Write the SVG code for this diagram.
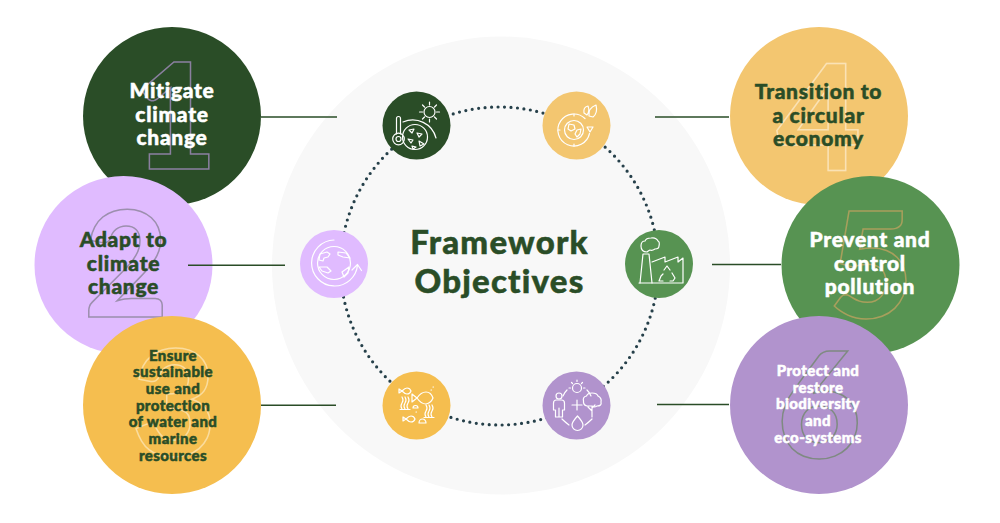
<svg xmlns="http://www.w3.org/2000/svg" width="1000" height="523" viewBox="0 0 1000 523">
<style>
.lb{font-family:"Lato","Noto Sans",sans-serif;font-weight:900;text-anchor:middle;stroke-width:.5;paint-order:stroke}
.dg{font-family:"Lato","DejaVu Sans",sans-serif;font-weight:900;font-size:146px;text-anchor:middle;fill:none;stroke-width:1.5}
.w{fill:#fff;stroke:#fff}.g{fill:#2a4d27;stroke:#2a4d27}
.ic{fill:none;stroke:#fff;stroke-width:1.2;stroke-linecap:round;stroke-linejoin:round}
.l18{font-size:21px;letter-spacing:.7px}.l14{font-size:15px;letter-spacing:.4px}
.tt{font-size:33px;letter-spacing:1.2px}
.cn{stroke:#2a4d27;stroke-width:1.6;fill:none}
</style>
<rect width="1000" height="523" fill="#fff"/>
<circle cx="501" cy="265.500" r="229" fill="#f8f8f8"/>
<g id="ring"><circle cx="499.500" cy="266" r="159" fill="none" stroke="#26404a" stroke-width="3.200" stroke-linecap="round" stroke-dasharray="0 6.500"/></g>
<g id="title"><text class="lb g tt" x="499.500" y="254">Framework</text><text class="lb g tt" x="499.500" y="293">Objectives</text></g>

<g id="node1"><circle cx="172" cy="116" r="89" fill="#2a4d27"/><text class="dg" x="175" y="169" stroke="#8a7f9f">1</text>
<text class="lb l18 w" x="172" y="98">Mitigate</text><text class="lb l18 w" x="172" y="122">climate</text><text class="lb l18 w" x="172" y="145">change</text></g>
<g id="node2"><circle cx="123.500" cy="265" r="89" fill="#e0bbff"/><text class="dg" x="126" y="317" stroke="#9c8fae">2</text>
<text class="lb l18 g" x="123.500" y="247">Adapt to</text><text class="lb l18 g" x="123.500" y="271">climate</text><text class="lb l18 g" x="123.500" y="294">change</text></g>
<g id="node3"><circle cx="172" cy="405" r="89" fill="#f5be4f"/><text class="dg" x="174" y="456" stroke="#fadc9d">3</text>
<text class="lb l14 g" x="173" y="361">Ensure</text><text class="lb l14 g" x="173" y="377">sustainable</text><text class="lb l14 g" x="173" y="394">use and</text><text class="lb l14 g" x="173" y="411">protection</text><text class="lb l14 g" x="173" y="427">of water and</text><text class="lb l14 g" x="173" y="444">marine</text><text class="lb l14 g" x="173" y="461">resources</text></g>
<g id="node4"><circle cx="819" cy="116" r="89" fill="#f3c670"/><text class="dg" x="819" y="170" stroke="#fae2b5">4</text>
<text class="lb l18 g" x="818.500" y="99">Transition to</text><text class="lb l18 g" x="818.500" y="123">a circular</text><text class="lb l18 g" x="818.500" y="146">economy</text></g>
<g id="node5"><circle cx="870.500" cy="265" r="89" fill="#579352"/><text class="dg" x="871" y="318" stroke="#a89f5c">5</text>
<text class="lb l18 w" x="870" y="247">Prevent and</text><text class="lb l18 w" x="870" y="271">control</text><text class="lb l18 w" x="870" y="294">pollution</text></g>
<g id="node6"><circle cx="819" cy="405" r="89" fill="#b193cd"/><text class="dg" x="819" y="458" stroke="#7f8a82">6</text>
<text class="lb l14 w" x="818" y="376">Protect and</text><text class="lb l14 w" x="818" y="393">restore</text><text class="lb l14 w" x="818" y="409">biodiversity</text><text class="lb l14 w" x="818" y="426">and</text><text class="lb l14 w" x="818" y="443">eco-systems</text></g>

<g id="connectors">
<path class="cn" d="M261 117H337M188 265.300H285M261 405.300H336M655 117H729M712 264.500H781M657 404.500H729"/>
</g>

<g id="icon1"><circle cx="416.500" cy="125.500" r="34" fill="#2a4d27"/>
<g class="ic"><circle cx="429.500" cy="112" r="5.500"/><path d="M429.500 102v3M429.500 119v3M419.500 112h3M436.500 112h3M422.500 105l2 2M434.500 117l2 2M436.500 105l-2 2M424.500 117l-2 2"/>
<path d="M396.500 134V118.500a2 2 0 0 1 4 0V134"/><circle cx="398.500" cy="139" r="5.800"/><circle cx="398.500" cy="139" r="2.500"/>
<circle cx="415" cy="137" r="12.500"/><path d="M403 122a24 24 0 0 1 33 16"/>
<path d="M409 130l5-1-2 4zM417 133l5 1-3 3zM408 139l5 1-2 3zM419 141l5 3-4 2zM412 146l4 1-3 2z"/></g></g>

<g id="icon2"><circle cx="334" cy="264" r="34" fill="#e0bbff"/>
<g class="ic"><circle cx="334" cy="263" r="16.500"/><path d="M334 240a23 23 0 1 0 23.500 25"/><path d="M352 270l5.500-5.500 4 6"/>
<path d="M320 254l7-2 3 2-2 3-4 1-1 3-4-1zM338 252l8 1 4 5-7-1-5-2zM319 267l8 0 4 4-3 2-6-2zM342 272l7-5-1 6-4 4z"/></g></g>

<g id="icon3"><circle cx="416.500" cy="405.500" r="34" fill="#f5be4f"/>
<g class="ic"><path d="M417 398q4-6 9-6q5 0 7 6q-2 5-7 6q-5 0-9-6l-5-4v8z"/><path d="M402 391q3-3 5-3q3 0 4 3q-1 3-4 3q-2 0-5-3l-3-2v4z"/><path d="M406 419q3-3 5-3q3 0 4 3q-1 3-4 3q-2 0-5-3l-3-2v4z"/>
<path d="M402 397q2 3 0 6t0 6M405 397q2 3 0 6t0 6M408 397q2 3 0 6t0 6M400 409.500h10"/><path d="M426 405q2 3 0 6t0 6M429 405q2 3 0 6t0 6M432 405q2 3 0 6t0 6M424 417.500h10"/><path d="M419 423a3.500 4 0 0 1 7 0zM413 408a2.500 2.500 0 0 1 5 0z"/><path d="M431 390h.5M433 387h.5M416 412h.5"/></g></g>

<g id="icon4"><circle cx="576.500" cy="125.500" r="34" fill="#f3c670"/>
<g class="ic"><path d="M585 118.500a16 16 0 1 0 4.500 15"/><circle cx="574" cy="130" r="9.500"/><path d="M569 124l5 1 1 4-4 2-3-2zM577 130l4-1-1 5-3 3-2-3z"/><path d="M587 127l3 5 3-5z"/>
<path d="M584 113q-1-6 4-7q2 5-1 9zM589 116q-1-8 7-11q2 8-3 12z"/><path d="M574 114v2M574 144v2M558 130h2"/></g></g>

<g id="icon5"><circle cx="659" cy="264" r="34" fill="#579352"/>
<g class="ic"><path d="M640 283l3-29h6l3 29"/><path d="M639 283h44V258l-5 4v-5l-13 5v-5l-13 5"/><path d="M647 252q-6 0-6-6q0-5 4-5q1-3 6-3q5-1 7 3q2 1 1 5q0 3-4 3q-3 2-5 1q-2 1-3 2z"/>
<path d="M664 270l3-4 3 4M672 273l3 5-2 3h-3M663 281h-4l2-5 2-2"/></g></g>

<g id="icon6"><circle cx="576.500" cy="405.500" r="34" fill="#b193cd"/>
<g class="ic"><circle cx="577" cy="388" r="4.500"/><path d="M577 380v1.500M569 388h1.500M585 388h-1.500M571.500 382.500l1 1M582.500 382.500l-1 1M563 396a17 17 0 0 1 4-6M591 396a17 17 0 0 0-4-6"/>
<circle cx="559" cy="396" r="3"/><path d="M553.500 410v-7q0-3 3-3h5q3 0 3 3v7h-2v7h-7v-7zM559 408v9"/><path d="M577 400v10M572 405h10"/>
<path d="M592 417v-11M592 411l-4-4M592 408l3-3M587 406q-4-1-3.500-5q-1-4 3-5q1-3 5.500-3q5 0 6 3q4 2 3 6q1 4-4 4q-3 2-5 0z"/>
<path d="M577.500 416q5.500 6 5.500 9a5.500 5.500 0 0 1-11 0q0-3 5.500-9z"/><path d="M562 419q3 3 7 6M592 419q-3 3-7 6"/></g></g>
</svg>
